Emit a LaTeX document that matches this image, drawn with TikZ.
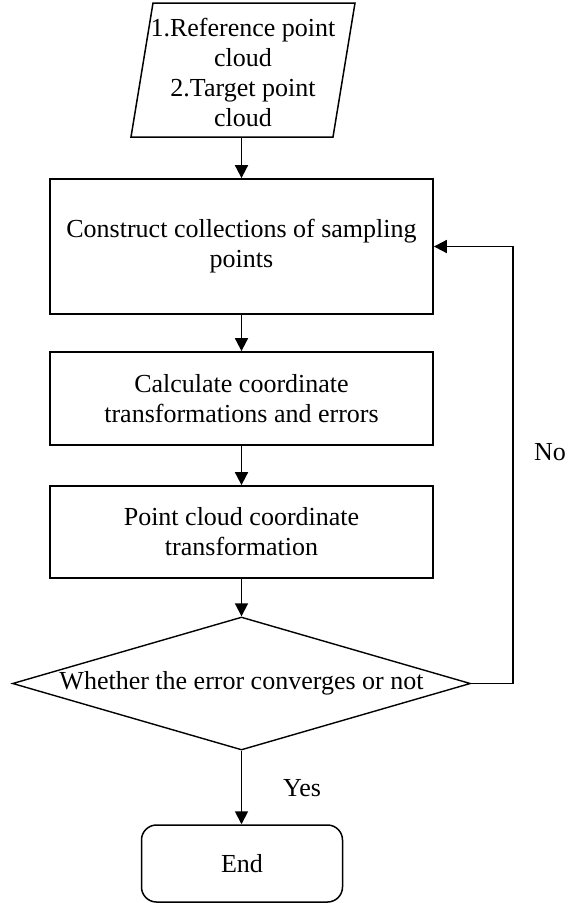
\documentclass[tikz,border=0pt]{standalone}
\usepackage{fontspec}
\setmainfont{Liberation Serif}
\usetikzlibrary{arrows.meta,shapes.geometric}
\begin{document}
\begin{tikzpicture}[x=1pt,y=-1pt,
  txt/.style={font=\fontsize{26}{30}\selectfont},
  mtxt/.style={txt, align=center},
  procbox/.style={draw, line width=1.8pt, mtxt, inner sep=0pt, minimum width=383pt},
  arr/.style={line width=1.8pt, -{Triangle[length=13pt,width=13pt]}}]
\useasboundingbox (0,0) rectangle (568,903);

% input parallelogram
\coordinate (p1) at (153,3);
\coordinate (p2) at (355,3);
\coordinate (p3) at (333,137);
\coordinate (p4) at (131,137);
\draw[line width=1.5pt] (p1) -- (p2) -- (p3) -- (p4) -- cycle;
\node[mtxt] (input) at (243,72) {1.Reference point\\cloud\\2.Target point\\cloud};
\coordinate (inbot) at (241.5,137);

% process steps
\node[procbox, minimum height=135pt] (r1) at (241.5,246.5) {Construct collections of sampling\\points};
\node[procbox, minimum height=93pt] (r2) at (241.5,398.5) {Calculate coordinate\\transformations and errors};
\node[procbox, minimum height=92pt] (r3) at (241.5,532) {Point cloud coordinate\\transformation};

% decision
\node[draw, diamond, line width=1.4pt, minimum width=458pt, minimum height=133pt,
      inner sep=0pt, txt] (dec) at (241.5,683.5) {\makebox[0pt]{Whether the error converges or not}};

% terminal
\node[draw, rounded corners=15pt, line width=1.5pt, minimum width=201pt,
      minimum height=77pt, txt] (end) at (242,863.5) {End};

% connectors
\draw[arr] (inbot) -- (r1.north);
\draw[arr] (r1) -- (r2);
\draw[arr] (r2) -- (r3);
\draw[arr] (r3.south) -- (dec.north);
\draw[arr] (dec.south) -- (dec.south |- end.north);
\draw[arr] (dec.east) -- ++(42,0) |- (r1.east);

% branch labels
\node[txt] (yes) at (302,788) {Yes};
\node[txt] (no) at (550,452) {No};
\end{tikzpicture}
\end{document}
